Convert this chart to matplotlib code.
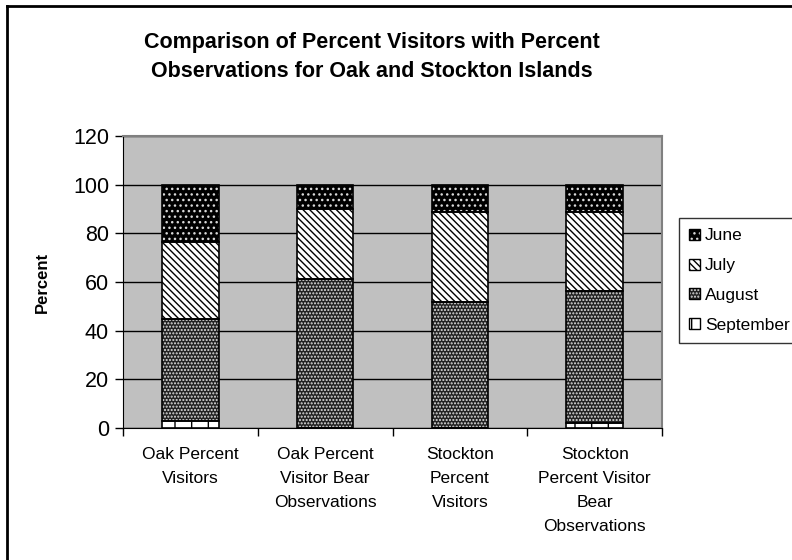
import matplotlib.pyplot as plt
import numpy as np
from matplotlib.patches import Patch
from matplotlib.legend_handler import HandlerTuple
from matplotlib.lines import Line2D

plt.rcParams['font.family'] = ['Liberation Sans', 'DejaVu Sans']
plt.rcParams['hatch.linewidth'] = 1.0

categories = ['Oak Percent\nVisitors',
              'Oak Percent\nVisitor Bear\nObservations',
              'Stockton\nPercent\nVisitors',
              'Stockton\nPercent Visitor\nBear\nObservations']
months = ['September', 'August', 'July', 'June']
september = [3.0, 0.0, 0.0, 2.0]
august = [41.7, 61.2, 51.7, 54.5]
july = [31.7, 28.9, 37.1, 32.3]
june = [23.6, 9.9, 11.2, 11.2]

# facecolor, hatch colour, hatch pattern for each month
styles = {
    'September': ('white', 'black', '|'),
    'August': ('#222222', '#e0e0e0', '.....'),
    'July': ('white', 'black', '\\\\\\\\\\'),
    'June': ('black', '#d8d8d8', '...'),
}

fig = plt.figure(figsize=(7.92, 5.6), dpi=100)
ax = fig.add_axes([123 / 792, 1 - 428 / 560, (662 - 123) / 792, (428 - 136) / 560])
ax.set_facecolor('#C0C0C0')

x = np.arange(len(categories))
width = 0.42
bottom = np.zeros(len(categories))
handles = {}
for name, vals in zip(months, [september, august, july, june]):
    fc, hc, hatch = styles[name]
    vals = np.array(vals)
    ax.bar(x, vals, width, bottom=bottom, facecolor=fc, edgecolor=hc,
           hatch=hatch, linewidth=0, zorder=3)
    ax.bar(x, vals, width, bottom=bottom, fill=False, edgecolor='black',
           linewidth=1.2, zorder=4)
    bottom += vals
    handles[name] = (Patch(facecolor=fc, edgecolor=hc, hatch=hatch, linewidth=0),
                     Patch(fill=False, edgecolor='black', linewidth=1.0))

ax.set_ylim(0, 120)
ax.set_xlim(-0.5, len(categories) - 0.5)
ax.set_yticks(range(0, 121, 20))
ax.yaxis.grid(True, color='black', linewidth=1.0, zorder=1)
ax.set_axisbelow(True)
ax.tick_params(axis='y', labelsize=15.5, length=6, width=1, direction='out', pad=4)

ax.set_xticks(x)
ax.set_xticklabels(categories, fontsize=12.5, linespacing=1.75)
ax.tick_params(axis='x', length=0, pad=14)
ax.set_xticks(np.arange(len(categories) + 1) - 0.5, minor=True)
ax.tick_params(axis='x', which='minor', length=6, width=1, direction='out')

for side in ['top', 'right']:
    ax.spines[side].set_color('#808080')
    ax.spines[side].set_linewidth(1.5)
ax.spines['left'].set_color('black')
ax.spines['bottom'].set_color('black')

ax.set_ylabel('Percent', fontsize=12, fontweight='bold')
ax.yaxis.set_label_coords(-0.135, 0.5)

legend_order = ['June', 'July', 'August', 'September']
leg = fig.legend([handles[m] for m in legend_order], legend_order,
                 handler_map={tuple: HandlerTuple(ndivide=1)},
                 loc='upper left', bbox_to_anchor=(679 / 792, 1 - 218 / 560),
                 fontsize=12.5, frameon=True, fancybox=False, edgecolor='black',
                 handlelength=0.6, handleheight=0.6, handletextpad=0.3,
                 labelspacing=0.85, borderpad=0.6, borderaxespad=0)
leg.get_frame().set_linewidth(1.0)

fig.text(372 / 792, 1 - 57 / 560,
         'Comparison of Percent Visitors with Percent\nObservations for Oak and Stockton Islands',
         ha='center', va='center', fontsize=15.5, fontweight='bold', linespacing=1.55)

# chart border
fig.add_artist(Line2D([7 / 792, 7 / 792], [0, 1 - 6 / 560], color='black', linewidth=2))
fig.add_artist(Line2D([7 / 792, 1], [1 - 6 / 560, 1 - 6 / 560], color='black', linewidth=2))

fig.savefig('out.png', dpi=100)
